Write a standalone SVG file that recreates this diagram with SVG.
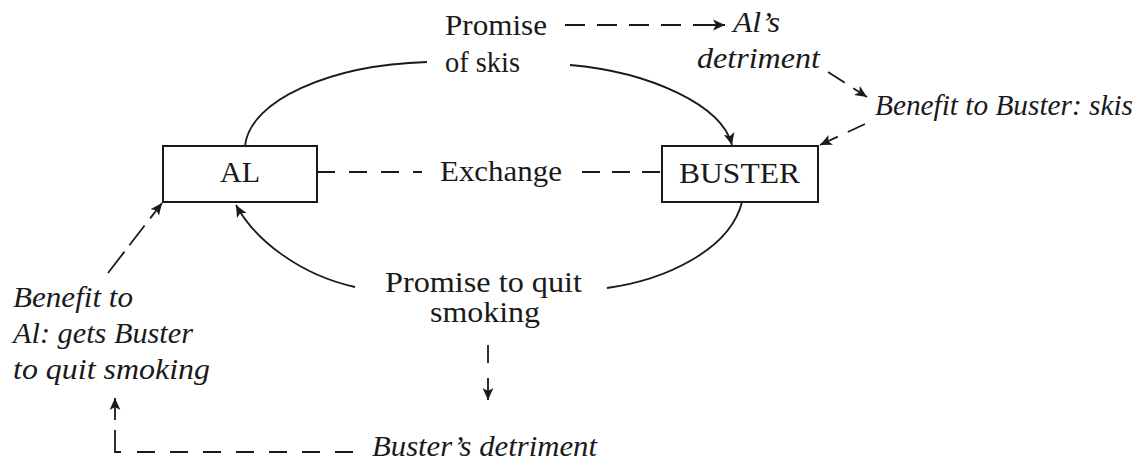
<svg xmlns="http://www.w3.org/2000/svg" width="1140" height="463" viewBox="0 0 1140 463">
<style>
  .bg { fill: #ffffff; }
  .box { fill: #ffffff; stroke: #1a1a1a; stroke-width: 2; }
  .t { font-family: "Liberation Serif", "Times New Roman", serif; font-size: 30px; fill: #1a1a1a; }
  .ti { font-family: "Liberation Serif", "Times New Roman", serif; font-size: 29px; font-style: italic; fill: #1a1a1a; }
  .solid { fill: none; stroke: #1a1a1a; stroke-width: 1.8; }
  .dash { fill: none; stroke: #1a1a1a; stroke-width: 1.8; }
</style>
<defs>
  <marker id="arr" markerWidth="12" markerHeight="12" refX="10" refY="5" orient="auto" markerUnits="userSpaceOnUse" viewBox="0 0 10 10">
    <path d="M0,0.5 L10,5 L0,9.5 L2.5,5 z" fill="#1a1a1a"/>
  </marker>
</defs>
<rect class="bg" x="0" y="0" width="1140" height="463"/>

<g id="connectors">
  <!-- Promise of skis -> Al's detriment -->
  <path class="dash" d="M565,25 H725" stroke-dasharray="20 12 20 12 20 12 20 12 32" marker-end="url(#arr)"/>
  <!-- Al's detriment -> Benefit to Buster -->
  <path class="dash" d="M828,72 L867,97" stroke-dasharray="20 10 30" marker-end="url(#arr)"/>
  <!-- Benefit to Buster -> BUSTER -->
  <path class="dash" d="M865,124 L820,145" stroke-dasharray="19 11 30" marker-end="url(#arr)"/>
  <!-- AL -> Promise of skis (solid) -->
  <path class="solid" d="M245,146 C250,100 330,65 427,62"/>
  <!-- Promise of skis -> BUSTER -->
  <path class="solid" d="M570,65 C650,72 722,105 732,145" marker-end="url(#arr)"/>
  <!-- Exchange dashed line -->
  <path class="dash" d="M317,172 H422" stroke-dasharray="18 14"/>
  <path class="dash" d="M582,172 H662" stroke-dasharray="18 12"/>
  <!-- BUSTER -> Promise to quit smoking (solid) -->
  <path class="solid" d="M742,202 C730,250 665,280 607,288"/>
  <!-- Promise to quit smoking -> AL -->
  <path class="solid" d="M355,287 C300,275 255,240 236,205" marker-end="url(#arr)"/>
  <!-- Promise to quit smoking -> Buster's detriment -->
  <path class="dash" d="M488,345 V400" stroke-dasharray="18 15 22" marker-end="url(#arr)"/>
  <!-- Buster's detriment -> Benefit to Al -->
  <path class="dash" d="M353,452 H115 V398" stroke-dasharray="18 15 18 15 18 15 18 15 18 15 18 15 18 16 28 10 22 100" marker-end="url(#arr)"/>
  <!-- Benefit to Al -> AL -->
  <path class="dash" d="M108,273 L162,203" stroke-dasharray="27 8 25 9 30" marker-end="url(#arr)"/>
  <text id="exchange" class="t" x="440" y="181" textLength="122" lengthAdjust="spacingAndGlyphs">Exchange</text>
</g>

<g id="node-al">
  <rect class="box" x="163" y="146" width="154" height="56"/>
  <text class="t" x="220" y="182" textLength="40" lengthAdjust="spacingAndGlyphs">AL</text>
</g>
<g id="node-buster">
  <rect class="box" x="662" y="146" width="156" height="56"/>
  <text class="t" x="679" y="183" textLength="121" lengthAdjust="spacingAndGlyphs">BUSTER</text>
</g>
<g id="node-promise-skis">
  <text class="t" x="445" y="35" textLength="102" lengthAdjust="spacingAndGlyphs">Promise</text>
  <text class="t" x="445" y="72" textLength="75" lengthAdjust="spacingAndGlyphs">of skis</text>
</g>
<g id="node-als-detriment">
  <text class="ti" x="733" y="32" textLength="47" lengthAdjust="spacingAndGlyphs">Al’s</text>
  <text class="ti" x="697" y="68" textLength="123" lengthAdjust="spacingAndGlyphs">detriment</text>
</g>
<g id="node-benefit-buster">
  <text class="ti" x="875" y="115" textLength="258" lengthAdjust="spacingAndGlyphs">Benefit to Buster: skis</text>
</g>
<g id="node-promise-quit">
  <text class="t" x="385" y="292" textLength="197" lengthAdjust="spacingAndGlyphs">Promise to quit</text>
  <text class="t" x="430" y="322" textLength="110" lengthAdjust="spacingAndGlyphs">smoking</text>
</g>
<g id="node-busters-detriment">
  <text class="ti" x="372" y="456" textLength="225" lengthAdjust="spacingAndGlyphs">Buster’s detriment</text>
</g>
<g id="node-benefit-al">
  <text class="ti" x="13" y="307" textLength="120" lengthAdjust="spacingAndGlyphs">Benefit to</text>
  <text class="ti" x="13" y="343" textLength="180" lengthAdjust="spacingAndGlyphs">Al: gets Buster</text>
  <text class="ti" x="13" y="379" textLength="197" lengthAdjust="spacingAndGlyphs">to quit smoking</text>
</g>
</svg>
